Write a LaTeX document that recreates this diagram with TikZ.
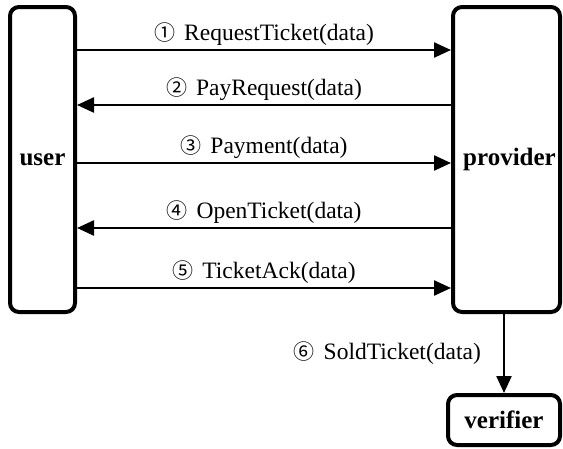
\documentclass[tikz,border=0pt]{standalone}
\usepackage{fontspec}
\setmainfont{Liberation Serif}
\newfontfamily\digitfont{Noto Sans CJK SC}
\usetikzlibrary{arrows.meta,positioning}

% circled step number, set apart from the message name
\newcommand{\stepno}[1]{{\digitfont\fontsize{21}{24}\selectfont #1}\hspace{9pt}}

\tikzset{
  party/.style={draw, line width=4pt, rounded corners=9pt, inner sep=0pt,
    font=\bfseries\fontsize{25}{30}\selectfont},
  msg/.style={line width=2.4pt, -{Triangle[length=17pt,width=15pt]}},
  msglabel/.style={inner sep=0pt, font=\fontsize{23.5}{27}\selectfont},
}

\begin{document}
\begin{tikzpicture}[x=1pt,y=-1pt]
  \useasboundingbox (0,0) rectangle (563,448);

  % the three parties
  \node[party, minimum width=65pt, minimum height=305pt] (user) at (42.5,159.5) {user};
  \node[party, minimum width=107pt, minimum height=305pt] (provider) at (506.5,159.5) {\hspace{6pt}provider};
  \node[party, minimum width=112pt, minimum height=50pt] (verifier) at (504,420) {verifier};

  % heights of the message lines
  \coordinate (m1) at (0,50);
  \coordinate (m2) at (0,105);
  \coordinate (m3) at (0,163);
  \coordinate (m4) at (0,228);
  \coordinate (m5) at (0,288);

  % messages between user and provider
  \draw[msg] (user.east |- m1) -- node[msglabel, midway, above=3pt] {\stepno{①}RequestTicket(data)} (provider.west |- m1);
  \draw[msg] (provider.west |- m2) -- node[msglabel, midway, above=3pt] {\stepno{②}PayRequest(data)} (user.east |- m2);
  \draw[msg] (user.east |- m3) -- node[msglabel, midway, above=3pt] {\stepno{③}Payment(data)} (provider.west |- m3);
  \draw[msg] (provider.west |- m4) -- node[msglabel, midway, above=3pt] {\stepno{④}OpenTicket(data)} (user.east |- m4);
  \draw[msg] (user.east |- m5) -- node[msglabel, midway, above=3pt] {\stepno{⑤}TicketAck(data)} (provider.west |- m5);

  % provider hands the ticket to the verifier
  \draw[msg] (provider.south -| verifier.north) -- node[msglabel, midway, left=22pt] {\stepno{⑥}SoldTicket(data)} (verifier.north);
\end{tikzpicture}
\end{document}
